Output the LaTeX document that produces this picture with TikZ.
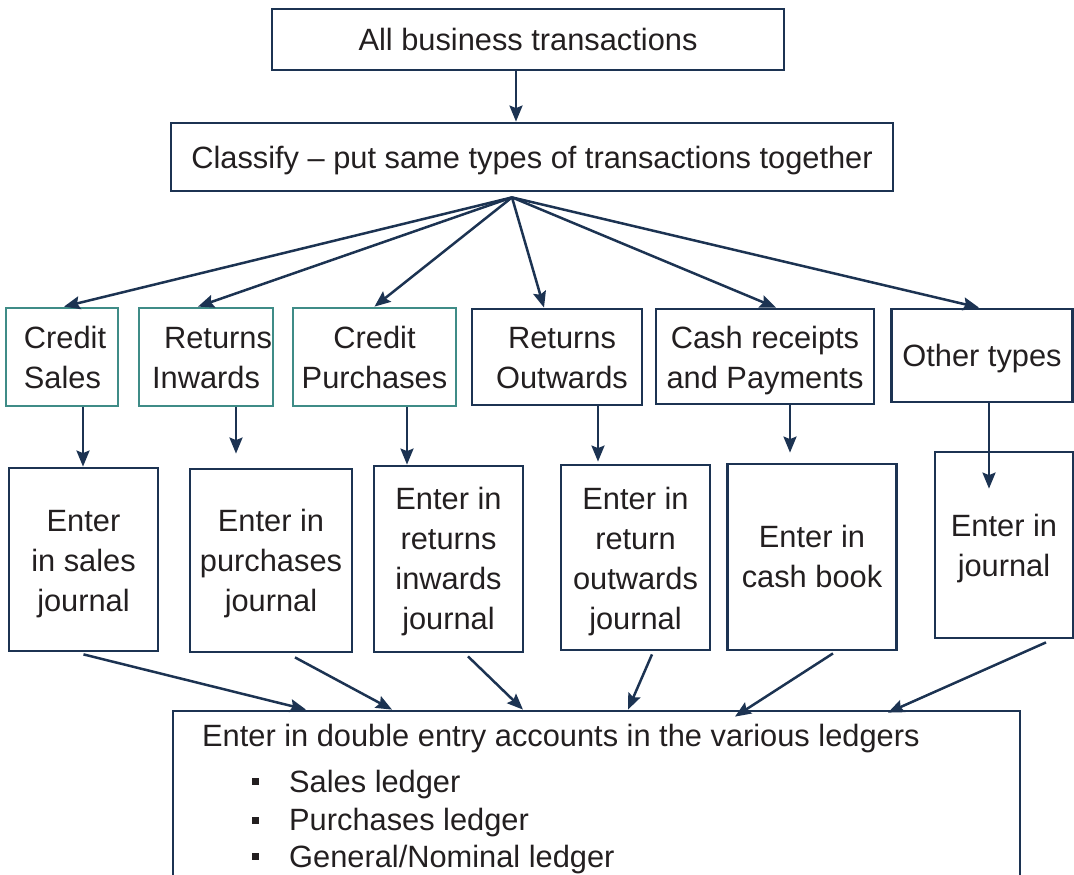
\documentclass[tikz,border=0pt]{standalone}
\usepackage{fontspec}
\setmainfont{Liberation Sans}
\usetikzlibrary{arrows.meta}
\definecolor{navy}{HTML}{1C3352}
\definecolor{tealb}{HTML}{3F8C87}
\definecolor{ink}{HTML}{231F20}
\tikzset{
  box/.style={draw=navy, line width=2.8pt, inner sep=0pt, text=ink,
    font=\fontsize{30.8}{40}\selectfont, text height=22pt, text depth=0pt},
  tbox/.style={box, draw=tealb},
  tv/.style={text depth=#1},
  arr/.style={draw=navy, line width=2.5pt, -{Stealth[length=16pt,width=13pt,inset=2.5pt]}},
  txt/.style={text=ink, font=\fontsize{30.8}{40}\selectfont, inner sep=0pt, anchor=base west},
}
% multi-line centred text block; optional argument shifts the lines to the right by half its value
\newcommand{\ml}[2][0pt]{\vtop{\halign{\hskip#1\hfil##\hfil\cr#2\crcr}}}
% multi-line left-aligned text block
\newcommand{\mll}[2][0pt]{\vtop{\halign{\hskip#1##\hfil\cr#2\crcr}}}
\newcommand{\bul}{\makebox[37pt][l]{\rule[7pt]{7pt}{7pt}}}
\begin{document}
\begin{tikzpicture}[x=1pt,y=-1pt]
\useasboundingbox (0,0) rectangle (1074,875);
% top boxes
\node[box, tv=-1pt, minimum width=512pt, minimum height=61pt] (A) at (528,39.5) {All business transactions};
\node[box, tv=0pt, minimum width=722pt, minimum height=68pt] (B) at (532,157) {Classify -- put same types of transactions together};
% category row
\node[tbox, tv=40pt, minimum width=112pt, minimum height=98pt] (c1) at (62,357) {\mll[6pt]{Credit\cr Sales}};
\node[tbox, tv=40pt, minimum width=134pt, minimum height=98pt] (c2) at (206,357) {\ml{\hskip24pt Returns\cr Inwards}};
\node[tbox, tv=40pt, minimum width=163pt, minimum height=98pt] (c3) at (374.5,357) {\ml{Credit\cr Purchases}};
\node[box, tv=40pt, minimum width=170pt, minimum height=96pt] (c4) at (557,357) {\ml[10pt]{Returns\cr Outwards}};
\node[box, tv=39pt, minimum width=218pt, minimum height=95pt] (c5) at (765,356.5) {\ml{Cash receipts\cr and Payments}};
\node[box, tv=-2pt, minimum width=181pt, minimum height=93pt] (c6) at (982,355.5) {Other types};
% journal row
\node[box, tv=79pt, minimum width=149pt, minimum height=183pt] (j1) at (83.5,559.5) {\ml{Enter\cr in sales\cr journal}};
\node[box, tv=81pt, minimum width=162pt, minimum height=183pt] (j2) at (271,560.5) {\ml{Enter in\cr purchases\cr journal}};
\node[box, tv=122pt, minimum width=149pt, minimum height=186pt] (j3) at (448.5,559) {\ml{Enter in\cr returns\cr inwards\cr journal}};
\node[box, tv=119pt, minimum width=149pt, minimum height=185pt] (j4) at (635.5,557.5) {\ml{Enter in\cr return\cr outwards\cr journal}};
\node[box, tv=41pt, minimum width=169pt, minimum height=186pt] (j5) at (812,557) {\ml{Enter in\cr cash book}};
\node[box, tv=40pt, minimum width=138pt, minimum height=186pt] (j6) at (1004,545) {\ml{Enter in\cr journal}};
% bottom box
\node[box, minimum width=847pt, minimum height=194pt] (bot) at (596.5,808) {};
\node[txt] (b0) at (202,746) {Enter in double entry accounts in the various ledgers};
\node[txt] (b1) at (252,792) {\bul Sales ledger};
\node[txt] (b2) at (252,830.5) {\bul Purchases ledger};
\node[txt] (b3) at (252,867) {\bul General/Nominal ledger};
% arrows top
\draw[arr] ([xshift=-12pt]A.south) -- ([xshift=-16pt]B.north);
\coordinate (ap) at ([xshift=-20pt,yshift=-5pt]B.south);
\draw[arr] (ap) -- ([xshift=2pt]c1.north);
\draw[arr] (ap) -- ([xshift=-8pt]c2.north);
\draw[arr] (ap) -- (c3.north);
\draw[arr] (ap) -- ([xshift=-13pt]c4.north);
\draw[arr] (ap) -- ([xshift=11pt]c5.north);
\draw[arr] (ap) -- ([xshift=-3pt]c6.north);
% category -> journal
\coordinate (s1) at ([xshift=21pt]c1.south);
\coordinate (s2) at ([xshift=30pt]c2.south);
\coordinate (s3) at ([xshift=32.5pt]c3.south);
\coordinate (s4) at ([xshift=41pt]c4.south);
\coordinate (s5) at ([xshift=25pt]c5.south);
\coordinate (s6) at ([xshift=7pt]c6.south);
\draw[arr] (s1) -- (s1 |- j1.north);
\draw[arr, shorten >=14pt] (s2) -- (s2 |- j2.north);
\draw[arr] (s3) -- (s3 |- j3.north);
\draw[arr, shorten >=2pt] (s4) -- (s4 |- j4.north);
\draw[arr, shorten >=10pt] (s5) -- (s5 |- j5.north);
\draw[arr, shorten >=-38pt] (s6) -- (s6 |- j6.north);
% journal -> ledger box
\draw[arr] ([yshift=-2pt]j1.south) -- ([xshift=-290.5pt]bot.north);
\draw[arr] ([xshift=24pt,yshift=-4pt]j2.south) -- ([xshift=-204.5pt]bot.north);
\draw[arr] ([xshift=19.5pt,yshift=-3pt]j3.south) -- ([xshift=-73.5pt]bot.north);
\draw[arr] ([xshift=16.5pt,yshift=-3pt]j4.south) -- ([xshift=31.5pt]bot.north);
\draw[arr] ([xshift=21pt,yshift=-2pt]j5.south) -- ([xshift=138.5pt,yshift=-7pt]bot.north);
\draw[arr] ([xshift=42pt,yshift=-3pt]j6.south) -- ([xshift=291.5pt,yshift=-3pt]bot.north);
\end{tikzpicture}
\end{document}
